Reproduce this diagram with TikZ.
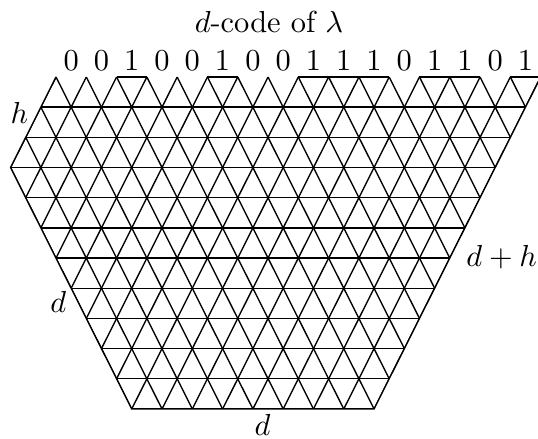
\documentclass[tikz,border=0pt]{standalone}
\begin{document}
\begin{tikzpicture}[x=0.3288pt,y=-0.3288pt,
  lat/.style={line width=0.45pt},
  lab/.style={anchor=base, inner sep=0pt}]
\useasboundingbox (0,0) rectangle (538,439);
\def\ax{30.29}\def\rr{30.18}
\coordinate (TL) at (56,77);
\coordinate (LM) at ({56-1.5*\ax},{77+3*\rr});
\coordinate (BL) at ({56+2.5*\ax},{77+11*\rr});
\coordinate (BR) at ({56+10.5*\ax},{77+11*\rr});
\coordinate (TR) at ({56+16*\ax},77);
\begin{scope}
  \clip (TL) -- (LM) -- (BL) -- (BR) -- (TR) -- cycle;
  \foreach \k in {-2,...,18}
    \draw[lat] ({56+\k*\ax},77) -- ({56+(\k-5.5)*\ax},{77+11*\rr});
  \foreach \k in {-5,...,18}
    \draw[lat] ({56+\k*\ax},77) -- ({56+(\k+5.5)*\ax},{77+11*\rr});
  \foreach \j in {1,...,11}
    \draw[lat] (0,{77+\j*\rr}) -- (560,{77+\j*\rr});
\end{scope}
\draw[lat, line join=miter] (TL) -- (LM) -- (BL) -- (BR) -- (TR);
\foreach \b [count=\i from 0] in {0,0,1,0,0,1,0,0,1,1,1,0,1,1,0,1} {
  \node[lab] (c\i) at ({56+(\i+0.5)*\ax},70.5) {\b};
  \ifnum\b=1 \draw[lat] ({56+\i*\ax},77) -- ({56+(\i+1)*\ax},77); \fi
}
\node[lab] (title) at (269,33) {$d$-code of $\lambda$};
\node[lab] (hl) at (19.5,124) {$h$};
\node[lab] (dhl) at (501.7,266.7) {$d+h$};
\node[lab] (dl) at (58.3,312.7) {$d$};
\node[lab] (db) at (262.5,435.5) {$d$};
\end{tikzpicture}
\end{document}
